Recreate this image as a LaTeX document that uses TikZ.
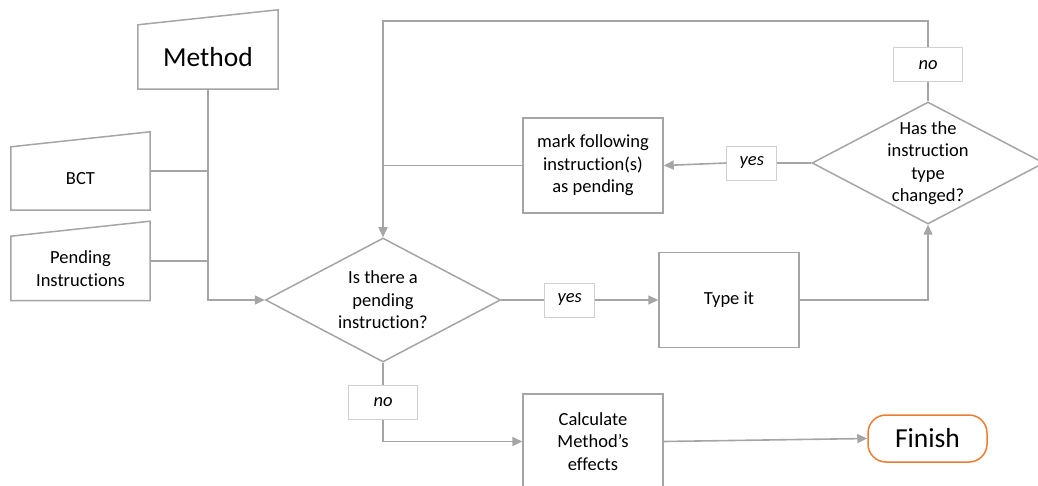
\documentclass[tikz,border=0pt]{standalone}
\usepackage{fontspec}
\setmainfont{Carlito}[Ligatures=NoCommon]
\usetikzlibrary{positioning,shapes.geometric,arrows.meta}

\definecolor{linegray}{HTML}{A5A5A5}
\definecolor{lblgray}{HTML}{D0D0D0}
\definecolor{finorange}{HTML}{ED7D31}
\newcommand{\bigfont}{\fontsize{27.5}{33}\selectfont}
\newcommand{\txtfont}{\fontsize{18.5}{22.5}\selectfont}

\tikzset{
  manual/.style={minimum width=140pt, minimum height=64pt, inner sep=0pt,
    align=center, font=\txtfont},
  procbox/.style={draw=linegray, line width=1.5pt, minimum width=140pt,
    minimum height=95pt, inner sep=0pt, align=center, font=\txtfont},
  decision/.style={diamond, draw=linegray, line width=1.5pt, aspect=1.9,
    inner sep=0pt, align=center, font=\txtfont},
  terminal/.style={draw=finorange, line width=1.5pt, rounded corners=18pt,
    minimum width=119pt, minimum height=47pt, font=\bigfont},
  lbl/.style={draw=lblgray, line width=0.8pt, fill=white, minimum width=50pt,
    minimum height=34pt, inner sep=0pt, font=\txtfont\itshape},
  conn/.style={draw=linegray, line width=1.6pt},
  arr/.style={conn, -{Triangle[length=10pt,width=9pt]}},
}

\begin{document}
\begin{tikzpicture}[x=1pt, y=-1pt]
  \useasboundingbox (0,0) rectangle (1038,486);
  \clip (0,0) rectangle (1038,486);

  % ── Inputs (manual input shapes) ─────────────────────────────
  \node[manual, font=\bigfont]                             (method) at (208,57)     {Method};
  \node[manual, minimum width=139pt, minimum height=63pt]  (bct)    at (80.5,178.5) {BCT};
  \node[manual, minimum width=139pt, below=26pt of bct]    (pend)   {Pending\\Instructions};

  % slanted top edges
  \foreach \n in {method,bct,pend}
    \draw[conn, line width=1.5pt] (\n.south west) -- (\n.south east)
      -- ([yshift=15pt]\n.north east) -- (\n.north west) -- cycle;

  % ── Main loop ────────────────────────────────────────────────
  \node[decision, minimum width=235pt, minimum height=124pt] (ispend) at (383,300)
    {Is there a\\pending\\instruction?};
  \node[procbox, right=157pt of ispend]                     (typeit) {Type it};
  \node[decision, minimum width=232pt, minimum height=122pt, inner sep=-8pt] (chg) at (928,163)
    {Has the\\instruction\\type\\changed?};
  \node[procbox]                                            (mark)   at (593,165.5)
    {mark following\\instruction(s)\\as pending};

  % ── End of the method ────────────────────────────────────────
  \node[procbox]                                            (calc)   at (593,441.5)
    {Calculate\\Method’s\\effects};
  \node[terminal]                                           (finish) at (927.5,438.5) {Finish};

  % ── Branch labels ────────────────────────────────────────────
  \node[lbl, right=43pt of ispend]                   (yes1) {yes};
  \node[lbl, left=34pt of chg]                       (yes2) {yes};
  \node[lbl, minimum width=69pt, above=19pt of chg]  (no2)  {no};
  \node[lbl, minimum width=69pt, below=22pt of ispend] (no1) {no};

  \coordinate (looptop) at (928,21);
  \coordinate (bctout)  at ([yshift=7.5pt]bct.east);
  \coordinate (pendout) at ([yshift=7.5pt]pend.east);

  % ── Inputs → decision ────────────────────────────────────────
  \draw[arr]  (method.south) |- (ispend.west);
  \draw[conn] (bctout) -- (bctout -| method.south);
  \draw[conn] (pendout) -- (pendout -| method.south);

  % yes: type the instruction, then check its type
  \draw[conn] (ispend.east) -- (yes1.west);
  \draw[arr]  (yes1.east) -- (typeit.west);
  \draw[arr]  (typeit.east) -| (chg.south);

  % type changed: mark and go back
  \draw[conn] (chg.west) -- (yes2.east);
  \draw[arr]  (yes2.west) -- (mark.east);
  \draw[conn] (mark.west) -- (mark.west -| ispend.north);

  % type unchanged: back to the top
  \draw[conn] (chg.north) -- (no2.south);
  \draw[arr]  (no2.north) -- (looptop) -| (ispend.north);

  % no pending instruction left
  \draw[conn] (ispend.south) -- (no1.north);
  \draw[arr]  (no1.south) |- (calc.west);
  \draw[arr]  (calc.east) -- (finish.west);

\end{tikzpicture}
\end{document}
